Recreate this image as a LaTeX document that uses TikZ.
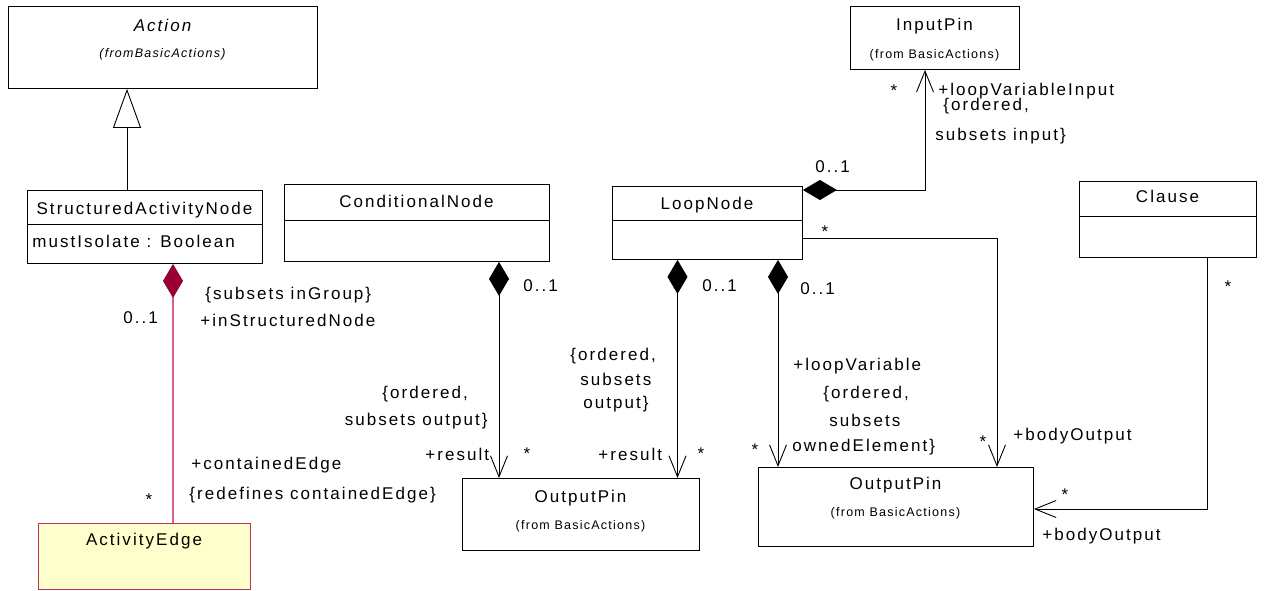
\documentclass[tikz,border=0pt]{standalone}
\usepackage{fontspec}
\setmainfont{Liberation Sans}[LetterSpace=12]
\newfontfamily\smallfam{Liberation Sans}[LetterSpace=10]
\usetikzlibrary{arrows.meta}
\definecolor{dred}{HTML}{990033}
\definecolor{pinkline}{HTML}{DC5F8E}
\definecolor{aeborder}{HTML}{C0305A}
\definecolor{aefill}{HTML}{FFFFCC}
\newcommand{\mainfnt}{\fontsize{17}{20}\selectfont}
\newcommand{\smallfnt}{\smallfam\fontsize{12.5}{14}\selectfont}
\begin{document}
\begin{tikzpicture}[x=1pt,y=-1pt, line width=0.9pt,
  box/.style={draw, anchor=north west, inner sep=0pt, fill=white},
  lbl/.style={inner sep=0pt, anchor=base west, font=\mainfnt},
  lblr/.style={lbl, anchor=base east},
  lblc/.style={lbl, anchor=base},
  smc/.style={inner sep=0pt, anchor=base, font=\smallfnt},
  assoc/.style={-{Straight Barb[length=21pt,width=17pt]}},
  comp/.style={{Diamond[length=34pt,width=20pt]}-{Straight Barb[length=21pt,width=17pt]}},
  compred/.style={draw=pinkline, line width=1.3pt, {Diamond[length=34pt,width=20pt,line width=0.9pt,color=dred,fill=dred]}-},
  gen/.style={-{Triangle[open,length=39pt,width=28pt,fill=white]}}]
\useasboundingbox (0,0) rectangle (1266,590);

% boxes
\node[box, minimum width=309pt, minimum height=82pt] (action) at (8,6) {};
\node[box, minimum width=235pt, minimum height=73pt] (san) at (27,190) {};
\node[box, minimum width=212pt, minimum height=66pt, draw=aeborder, fill=aefill] (ae) at (38,523) {};
\node[box, minimum width=265pt, minimum height=77pt] (cn) at (284,184) {};
\node[box, minimum width=190pt, minimum height=73pt] (loop) at (612,186) {};
\node[box, minimum width=237pt, minimum height=72pt] (op1) at (462,478) {};
\node[box, minimum width=275pt, minimum height=79pt] (op2) at (758,467) {};
\node[box, minimum width=169pt, minimum height=63pt] (ip) at (850,6) {};
\node[box, minimum width=177pt, minimum height=76pt] (clause) at (1079,181) {};

% dividers
\draw ([yshift=-34pt]san.north west) -- ([yshift=-34pt]san.north east);
\draw ([yshift=-36pt]cn.north west) -- ([yshift=-36pt]cn.north east);
\draw ([yshift=-34pt]loop.north west) -- ([yshift=-34pt]loop.north east);
\draw ([yshift=-35pt]clause.north west) -- ([yshift=-35pt]clause.north east);

% class texts
\node[lblc] (tAction) at (162.5,31) {\itshape Action};
\node[smc] (tActionFrom) at (162.5,57) {\itshape (fromBasicActions)};
\node[lblc] (tSan) at (144.5,214) {StructuredActivityNode};
\node[lbl] (tSanAttr) at (32,247) {mustIsolate : Boolean};
\node[lblc] (tAe) at (144,545) {ActivityEdge};
\node[lblc] (tCn) at (416.5,207) {ConditionalNode};
\node[lblc] (tLoop) at (707,209) {LoopNode};
\node[lblc] (tIp) at (934.5,30) {InputPin};
\node[smc] (tIpFrom) at (934.5,58) {(from BasicActions)};
\node[lblc] (tClause) at (1167.5,202) {Clause};
\node[lblc] (tOp1) at (580.5,502) {OutputPin};
\node[smc] (tOp1From) at (580.5,529) {(from BasicActions)};
\node[lblc] (tOp2) at (895.5,489) {OutputPin};
\node[smc] (tOp2From) at (895.5,516) {(from BasicActions)};

% connector points
\coordinate (g1) at ([xshift=100pt]san.north west);
\coordinate (r1) at ([xshift=146pt]san.south west);
\coordinate (c1) at ([xshift=215pt]cn.south west);
\coordinate (l1) at ([xshift=65.5pt]loop.south west);
\coordinate (l2) at ([xshift=166pt]loop.south west);
\coordinate (l3) at ([yshift=-52pt]loop.north east);
\coordinate (o2b) at ([xshift=239pt]op2.north west);
\coordinate (cl1) at ([xshift=128pt]clause.south west);
\coordinate (o2r) at ([yshift=-42pt]op2.north east);
\coordinate (l4) at ([yshift=-4pt]loop.north east);
\coordinate (ipb) at ([xshift=75pt]ip.south west);

% connectors
\draw[gen] (g1) -- (g1 |- action.south);
\draw[compred] (r1) -- (r1 |- ae.north);
\draw[comp] (c1) -- (c1 |- op1.north);
\draw[comp] (l1) -- (l1 |- op1.north);
\draw[comp] (l2) -- (l2 |- op2.north);
\draw[assoc] (l3) -| (o2b);
\draw[assoc] (cl1) |- (o2r);
\draw[comp] (l4) -| (ipb);

% labels: StructuredActivityNode - ActivityEdge
\node[lbl] (a1) at (205,299) {\{subsets inGroup\}};
\node[lbl] (a2) at (200,326) {+inStructuredNode};
\node[lbl] (a3) at (123,323) {0..1};
\node[lblc] (a4) at (149,505) {*};
\node[lbl] (a5) at (191,469) {+containedEdge};
\node[lbl] (a6) at (189,499) {\{redefines containedEdge\}};

% ConditionalNode - OutputPin
\node[lbl] (b1) at (523,291) {0..1};
\node[lbl] (b2) at (382,398) {\{ordered,};
\node[lblr] (b3) at (488,425) {subsets output\}};
\node[lbl] (b4) at (425,460) {+result};
\node[lblc] (b5) at (527,459) {*};

% LoopNode - OutputPin (result)
\node[lbl] (c2) at (702,291) {0..1};
\node[lbl] (c3) at (570,360) {\{ordered,};
\node[lbl] (c4) at (580,385) {subsets};
\node[lbl] (c5) at (583,408) {output\}};
\node[lbl] (c6) at (598,460) {+result};
\node[lblc] (c7) at (701,459) {*};

% LoopNode - OutputPin (loopVariable)
\node[lbl] (d1) at (800,294) {0..1};
\node[lbl] (d2) at (793,370) {+loopVariable};
\node[lbl] (d3) at (823,398) {\{ordered,};
\node[lbl] (d4) at (829,426) {subsets};
\node[lbl] (d5) at (792,451) {ownedElement\}};
\node[lblc] (d6) at (755,455) {*};

% LoopNode - OutputPin (bodyOutput)
\node[lblc] (e1) at (825,237) {*};
\node[lblc] (e2) at (983,447) {*};
\node[lbl] (e3) at (1013,440) {+bodyOutput};

% Clause - OutputPin
\node[lblc] (f1) at (1228,292) {*};
\node[lblc] (f2) at (1065,500) {*};
\node[lbl] (f3) at (1042,540) {+bodyOutput};

% LoopNode - InputPin
\node[lblc] (h1) at (894,96) {*};
\node[lbl] (h2) at (938,95) {+loopVariableInput};
\node[lbl] (h3) at (943,110) {\{ordered,};
\node[lbl] (h4) at (935,140) {subsets input\}};
\node[lbl] (h5) at (815,172) {0..1};
\end{tikzpicture}
\end{document}
